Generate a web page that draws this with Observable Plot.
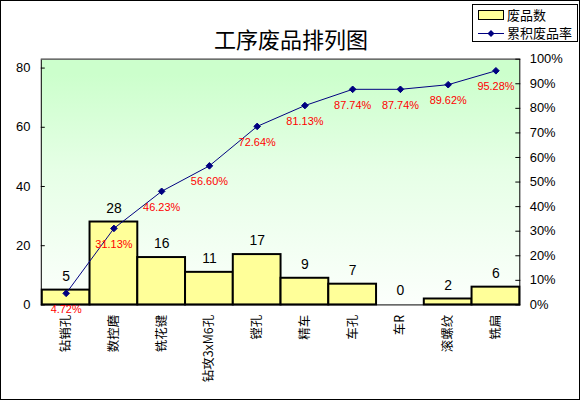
<!DOCTYPE html>
<html><head><meta charset="utf-8">
<script src="https://cdn.jsdelivr.net/npm/d3@7"></script>
<script src="https://cdn.jsdelivr.net/npm/@observablehq/plot@0.6"></script>
<style>
body{margin:0;background:#fff;}
#wrap{position:relative;width:578px;height:398px;border:1px solid #000;overflow:hidden;background:#fff;}
#title{position:absolute;left:0;width:580px;top:25px;line-height:24px;text-align:center;font-size:22px;font-family:"Noto Sans CJK SC",sans-serif;color:#000;z-index:2;}
#legend{position:absolute;left:471px;top:3px;width:104px;height:36px;border:1px solid #000;background:#fff;font-size:13px;font-family:"Noto Sans CJK SC",sans-serif;z-index:2;}
#legend .row{position:absolute;left:34px;line-height:16px;white-space:nowrap;}
#chart{position:absolute;left:-1px;top:-1px;}
</style></head><body>
<div id="wrap">
<div id="chart"></div>
<div id="title">工序废品排列图</div>
<div id="legend">
  <svg width="34" height="36" style="position:absolute;left:0;top:0">
    <rect x="5.5" y="5.5" width="25" height="9" fill="#ffff99" stroke="#000"/>
    <line x1="5" x2="31" y1="28.5" y2="28.5" stroke="#000080"/>
    <path d="M18,25 L21.5,28.5 L18,32 L14.5,28.5Z" fill="#000080"/>
  </svg>
  <div class="row" style="top:2px">废品数</div>
  <div class="row" style="top:20px">累积废品率</div>
</div>
</div>
<script>
const categories = ["钻销孔","数控磨","铣花键","钻攻3xM6孔","镗孔","精车","车孔","车R","滚螺纹","铣扁"];
const counts = [5,28,16,11,17,9,7,0,2,6];
const cumPct = [4.72,31.13,46.23,56.60,72.64,81.13,87.74,87.74,89.62,95.28];
const leftTicks = [0,20,40,60,80];
const rightTicks = [0,10,20,30,40,50,60,70,80,90,100];
const yMax = 83;
const k = yMax/100;
const rows = categories.map((c,i)=>({cat:c,count:counts[i],cum:cumPct[i],cumY:cumPct[i]*k}));

const svg = Plot.plot({
  width:582, height:401,
  marginLeft:41, marginRight:60, marginTop:59, marginBottom:95,
  x:{domain:categories, padding:0, axis:null, label:null},
  y:{domain:[0,yMax], axis:null, label:null},
  style:{fontFamily:"'Liberation Sans', Arial, sans-serif", fontSize:"12px", background:"transparent", overflow:"visible", color:"#000"},
  marks:[
    Plot.frame({fill:"url(#bg)", stroke:null}),
    Plot.barY(rows,{x:"cat", y:"count", fill:"#ffff99", stroke:"#000", strokeWidth:2, inset:0}),
    Plot.frame({stroke:"#000", strokeWidth:1}),
    Plot.ruleY([yMax],{stroke:"#808080"}),
    Plot.line(rows,{x:"cat", y:"cumY", stroke:"#000080", strokeWidth:1}),
    Plot.dot(rows,{x:"cat", y:"cumY", symbol:"diamond2", fill:"#000080", stroke:"#000080", strokeWidth:1, r:3}),
    Plot.text(rows,{x:"cat", y:"count", text:d=>String(d.count), dy:-14, fontSize:14, fill:"#000"}),
    Plot.text(rows,{x:"cat", y:"cumY", text:d=>d.cum.toFixed(2)+"%", dy:16, fontSize:11, fill:"#ff0000"}),
    Plot.axisX({tickRotate:-90, tickSize:0, tickPadding:10, fontSize:12.5, label:null, fontFamily:"'Noto Sans CJK SC', sans-serif"}),
    Plot.axisY({ticks:leftTicks, anchor:"left", tickSize:-4, tickPadding:15, fontSize:13, label:null}),
    Plot.axisY({ticks:rightTicks.map(p=>p*k), anchor:"right", tickSize:-5, tickPadding:15, fontSize:13, label:null, tickFormat:d=>Math.round(d/k)+"%"})
  ]
});
const defs = d3.select(svg).insert("defs",":first-child");
const g = defs.append("linearGradient").attr("id","bg").attr("x1",0).attr("y1",0).attr("x2",0).attr("y2",1);
g.append("stop").attr("offset","0%").attr("stop-color","#ccffcc");
g.append("stop").attr("offset","6%").attr("stop-color","#ccffcc");
g.append("stop").attr("offset","45%").attr("stop-color","#e6ffe6");
g.append("stop").attr("offset","100%").attr("stop-color","#fcfffc");
document.getElementById("chart").appendChild(svg);
</script>
</body></html>
